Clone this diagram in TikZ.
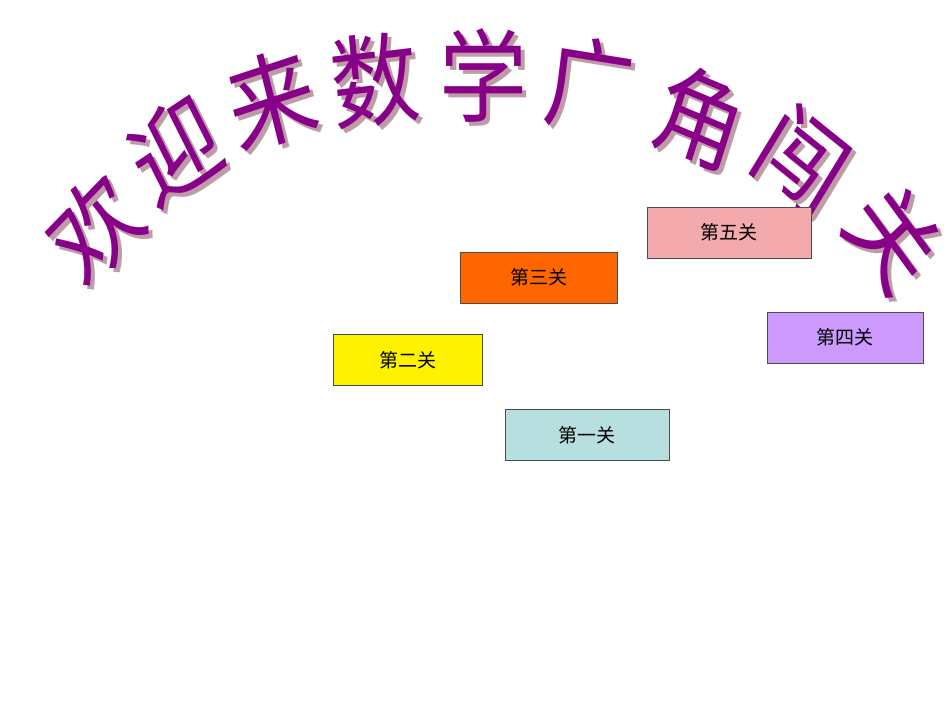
\documentclass[tikz,border=0pt]{standalone}
\usepackage{fontspec}
\newfontfamily\cjk{Noto Sans CJK SC}
\begin{document}
\begin{tikzpicture}[x=1pt,y=-1pt,
  gate/.style={draw=black!70,line width=0.6pt,minimum width=#1,minimum height=51pt,inner sep=0pt,font=\cjk\fontsize{19}{19}\selectfont},
  tch/.style={font=\cjk\fontsize{88}{88}\selectfont,text=violet!50!purple,inner sep=0pt,yscale=1.15},
  tsh/.style={font=\cjk\fontsize{88}{88}\selectfont,text=purple!30!gray!60,inner sep=0pt,yscale=1.15}]
\useasboundingbox (0,0) rectangle (950,713);
\fill[white] (0,0) rectangle (950,713);
\definecolor{tp}{HTML}{880088}
\foreach \c/\x/\y/\r [count=\i] in {欢/95/228/42,迎/175/150/30,来/272/100/16,数/375/80/6,学/483/75/0,广/590/85/-8,角/700/118/-20,闯/802/160/-35,关/893/238/-50}{
  \node[tsh,rotate=\r] (s\i) at (\x+4,\y+4) {\c};
  \node[tch,text=tp,rotate=\r] (t\i) at (\x,\y) {\c};
}
\node[gate=164pt,fill={rgb,255:red,244;green,169;blue,172}] (g5) at (729,232.5) {第五关};
\node[gate=157pt,fill={rgb,255:red,255;green,102;blue,0}] (g3) at (538.5,277.5) {第三关};
\node[gate=156pt,fill={rgb,255:red,204;green,153;blue,255}] (g4) at (845,337.5) {第四关};
\node[gate=149pt,fill=yellow] (g2) at (407.5,360) {第二关};
\node[gate=164pt,fill={rgb,255:red,183;green,223;blue,224}] (g1) at (587,435) {第一关};
\end{tikzpicture}
\end{document}
